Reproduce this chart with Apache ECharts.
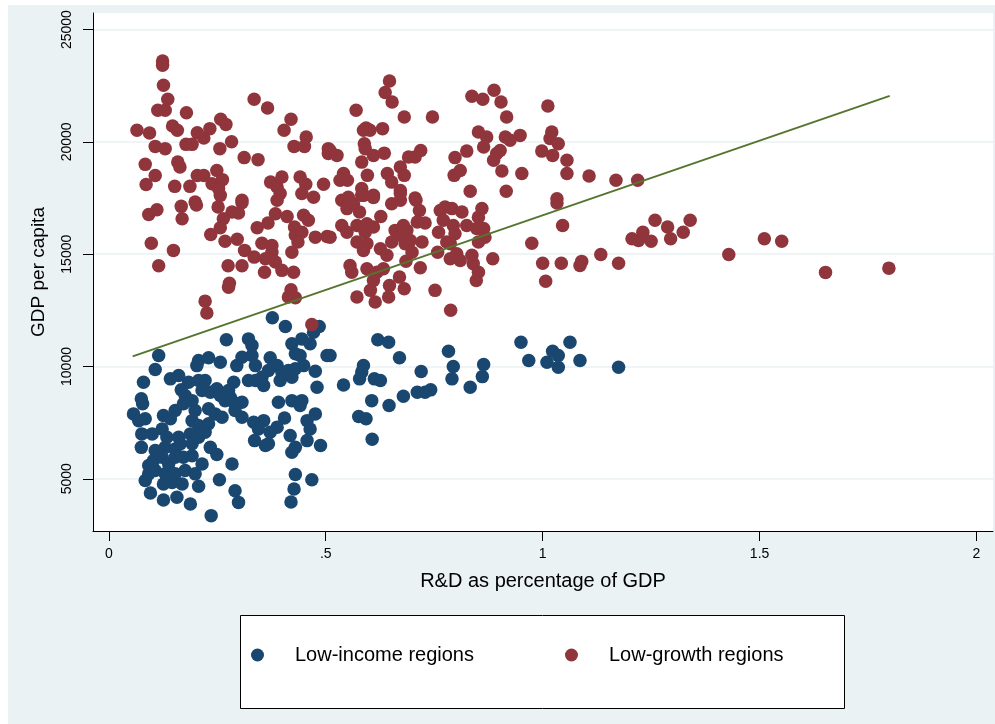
<!DOCTYPE html>
<html>
<head>
<meta charset="utf-8">
<script src="https://cdn.jsdelivr.net/npm/echarts@6/dist/echarts.min.js"></script>
<style>
  html, body { margin: 0; padding: 0; background: #fff; }
  #chart { width: 995px; height: 724px; }
</style>
</head>
<body>
<div id="chart"></div>
<script>
// R&D intensity (share of GDP) vs GDP per capita, by region group
const lowIncome = [
  [.377,12170],[.407,11780],[.485,11780],[.472,11530],[.271,11190],[.322,11230],[.330,10940],[.422,11010],[.445,11230],[.464,11010],
  [.430,10570],[.441,10490],[.503,10490],[.115,10490],[.107,9870],[.207,10270],[.230,10390],[.203,10040],[.257,10190],[.295,10040],
  [.307,10410],[.330,10490],[.338,10040],[.372,10390],[.388,10040],[.368,9820],[.353,9520],[.357,9150],[.399,9750],[.414,9820],
  [.430,9900],[.449,10040],[.476,9790],[.395,9380],[.422,9520],[.322,9380],[.338,9380],[.480,9080],[.080,9300],[.142,9450],
  [.161,9600],[.184,9300],[.167,8960],[.176,8710],[.207,9380],[.222,9380],[.215,8930],[.234,8850],[.249,9010],[.257,8710],
  [.288,9300],[.276,8930],[.280,8630],[.075,8560],[.078,8340],[.057,7890],[.084,7670],[.069,7590],[.126,7820],[.153,8040],
  [.142,7670],[.172,8340],[.192,8480],[.199,8040],[.230,8120],[.245,7890],[.261,7740],[.268,8480],[.288,8410],[.307,8410],
  [.291,8040],[.307,7740],[.192,7590],[.207,7370],[.230,7450],[.334,7520],[.357,7590],[.345,7220],[.391,8410],[.422,8480],
  [.445,8480],[.441,8260],[.405,7710],[.388,7300],[.372,7070],[.418,6930],[.457,7590],[.476,7890],[.464,7220],[.336,6700],
  [.361,6480],[.368,6560],[.430,6400],[.422,6180],[.457,6700],[.488,6480],[.076,7000],[.100,7000],[.123,7220],[.134,6850],
  [.161,6850],[.075,6400],[.107,6260],[.130,6400],[.153,6330],[.165,6560],[.188,7000],[.192,6560],[.207,6850],[.222,7070],
  [.234,6400],[.249,6080],[.284,5660],[.092,5590],[.103,5810],[.123,5960],[.138,5660],[.153,5960],[.172,5960],[.192,6030],
  [.215,5660],[.084,4920],[.092,5220],[.107,5370],[.130,5220],[.153,5220],[.176,5370],[.199,5220],[.096,4370],[.126,4770],
  [.146,4840],[.169,4770],[.207,4670],[.126,4060],[.157,4180],[.188,3880],[.236,3360],[.255,4960],[.291,4470],[.299,3950],
  [.430,5190],[.427,4550],[.420,3970],[.468,4960],
  [.510,10490],[.620,11190],[.645,11080],[.670,10390],[.587,10040],[.583,9750],[.578,9450],[.612,9450],[.626,9380],[.541,9180],
  [.606,8480],[.646,8260],[.679,8680],[.576,7770],[.593,7670],[.607,6760],[.720,9780],[.711,8850],[.729,8850],[.742,8960],
  [.783,10680],[.794,10000],[.791,9450],[.833,9080],[.864,10090],[.861,9550],[.950,11080],[.968,10270],[1.010,10190],[1.023,10680],
  [1.036,10490],[1.036,9970],[1.063,11080],[1.086,10270],[1.175,9970]
];

const lowGrowth = [
  [.124,23600],[.124,23410],[.126,22520],[.136,21900],[.113,21410],[.130,21410],[.179,21300],[.335,21900],[.366,21510],[.420,21010],
  [.404,20520],[.065,20520],[.094,20400],[.147,20710],[.158,20520],[.204,20410],[.219,20170],[.233,20590],[.258,21010],[.270,20780],
  [.283,20010],[.256,19700],[.107,19800],[.130,19700],[.178,19890],[.192,19890],[.312,19300],[.344,19210],[.427,19800],[.455,20220],
  [.451,19800],[.506,19700],[.506,19480],[.084,19000],[.159,19100],[.164,18880],[.107,18500],[.086,18100],[.152,18020],[.187,18020],
  [.204,18500],[.219,18500],[.249,18730],[.262,18320],[.238,18140],[.253,17920],[.257,17620],[.373,18210],[.388,17990],[.399,18440],
  [.395,17700],[.441,18440],[.454,18110],[.445,17700],[.472,17540],[.495,18110],[.307,17400],[.199,17320],
  [.092,16770],[.111,16980],[.167,17130],[.169,16580],[.202,17190],[.252,17100],[.307,17290],[.299,16830],[.284,16880],[.264,16580],
  [.257,16180],[.235,15880],[.268,15580],[.296,15670],[.313,15170],[.335,14870],[.342,16180],[.367,16390],[.384,16800],[.411,16680],
  [.388,17400],[.449,16730],[.460,16510],[.428,16210],[.430,15840],[.445,15980],[.476,15760],[.503,15790],[.436,15540],[.422,15090],
  [.353,15490],[.376,15390],[.376,15090],[.361,14800],[.384,14650],[.399,14280],[.426,14200],[.359,14200],[.098,15490],[.149,15170],
  [.115,14490],[.275,14490],[.307,14490],[.278,13710],[.276,13530],[.420,13420],[.414,13090],[.430,13060],[.222,12910],[.226,12380],
  [.468,11870],
  [.647,22710],[.637,22200],[.653,21780],[.570,21410],[.681,21110],[.746,21110],[.593,20620],[.587,20520],[.602,20520],[.631,20590],
  [.589,19920],[.591,19700],[.610,19400],[.635,19500],[.583,19100],[.596,18510],[.526,19400],[.510,19620],[.541,18590],[.550,18290],
  [.533,18290],[.583,17920],[.610,17620],[.587,17620],[.642,18590],[.652,18210],[.672,18880],[.691,19330],[.706,19330],[.719,19620],
  [.681,18510],[.672,17840],[.706,17500],[.837,22030],[.862,21900],[.888,22300],[.904,21780],[.917,21110],[.852,20440],[.871,20220],
  [.864,19770],[.798,19300],[.825,19590],[.796,18510],[.810,18730],[.894,19480],[.902,19620],[.887,19180],[.906,18700],[.914,20220],
  [.925,20070],[.948,20290],[.952,18590],[.833,17800],[.916,17800],[1.012,21600],[1.021,20440],[1.017,20150],[1.036,19920],[.998,19590],
  [1.023,19400],[1.056,19180],[1.056,18590],[1.033,17470],
  [.537,17400],[.552,17540],[.564,17250],[.549,17030],[.583,17620],[.610,17520],[.578,16880],[.627,16680],[.652,17250],[.672,17400],
  [.672,17700],[.708,17400],[.716,16950],[.711,16430],[.729,16390],[.764,16950],[.775,17100],[.791,17030],[.814,16880],[.771,16510],
  [.852,16650],[.860,17030],[.825,16280],[.848,16140],[.864,16140],[.867,15760],[.852,15540],[.794,16280],[.798,15910],[.779,15540],
  [.760,15980],[1.033,17280],[1.046,16280],[.975,15490],[.537,16280],[.549,15980],[.510,15760],[.572,16280],[.595,16360],[.610,16210],
  [.591,15980],[.660,16060],[.679,16280],[.687,16060],[.672,15840],[.695,15610],[.683,15470],[.572,15540],[.595,15470],[.587,15170],
  [.626,15240],[.641,14950],[.652,15540],[.722,15540],[.699,15090],[.685,14690],[.758,15090],[.787,15470],[.802,15020],[.787,14800],
  [.810,14720],[.837,14950],[.840,14580],[.852,14200],[.847,13830],[.885,14800],[.556,14500],[.560,14200],[.595,14350],[.618,14200],
  [.633,14350],[.718,14400],[.670,13980],[.610,13830],[.603,13390],[.647,13610],[.645,13090],[.681,13460],[.572,13090],[.614,12870],
  [.752,13390],[.788,12500],[1.000,14600],[1.043,14600],[1.007,13800],
  [1.107,18480],[1.169,18290],[1.219,18290],[1.259,16510],[1.288,16210],[1.340,16510],[1.324,15980],[1.295,15690],[1.206,15690],[1.221,15610],
  [1.231,15980],[1.250,15580],[1.086,14500],[1.090,14680],[1.134,14990],[1.175,14600],[1.429,14990],[1.511,15690],[1.551,15580],[1.652,14190],
  [1.798,14380]
];

// Linear fit across all regions (endpoints at the observed R&D range)
const fitRD = [0.055, 1.8];
const fitGDP = [10450, 22050];

const xTicks = [0, 0.5, 1, 1.5, 2];
const xTickLabels = ['0', '.5', '1', '1.5', '2'];
const yTicks = [5000, 10000, 15000, 20000, 25000];

const FONT = '"Liberation Sans", Arial, Helvetica, sans-serif';
const NAVY = '#1a476f';
const MAROON = '#90353b';
const FOREST = '#55752f';

const chart = echarts.init(document.getElementById('chart'), null, { renderer: 'canvas' });

chart.setOption({
  animation: false,
  backgroundColor: '#ffffff',
  textStyle: { fontFamily: FONT },
  graphic: [
    { type: 'rect', z: -100, silent: true,
      shape: { x: 8, y: 5, width: 987, height: 719 },
      style: { fill: '#eaf2f3' } },
    { type: 'rect', z: -50, silent: true,
      shape: { x: 240.5, y: 615.5, width: 604, height: 93 },
      style: { fill: '#ffffff', stroke: '#000000', lineWidth: 1 } }
  ],
  grid: {
    left: 93, right: 2, top: 13, bottom: 193,
    show: true, backgroundColor: '#ffffff', borderWidth: 0
  },
  legend: {
    left: 246, top: 640,
    icon: 'circle', itemWidth: 13, itemHeight: 13, itemGap: 91,
    textStyle: { fontFamily: FONT, fontSize: 20, color: '#000', padding: [0, 0, 0, 26] },
    data: ['Low-income regions', 'Low-growth regions']
  },
  xAxis: {
    type: 'value', min: -0.0364, max: 2.038,
    name: 'R&D as percentage of GDP', nameLocation: 'middle', nameGap: 40,
    nameTextStyle: { fontFamily: FONT, fontSize: 20, color: '#000' },
    axisLine: { show: true, onZero: false, lineStyle: { color: '#000', width: 1 } },
    axisTick: { show: true, length: 10, customValues: xTicks, lineStyle: { color: '#000', width: 1 } },
    axisLabel: {
      customValues: xTicks, margin: 16, fontFamily: FONT, fontSize: 14, color: '#000',
      formatter: v => {
        const i = xTicks.findIndex(t => Math.abs(t - v) < 1e-9);
        return i >= 0 ? xTickLabels[i] : '';
      }
    },
    splitLine: { show: false }
  },
  yAxis: {
    type: 'value', min: 2676, max: 25739,
    name: 'GDP per capita', nameLocation: 'middle', nameGap: 45, nameRotate: 90,
    nameTextStyle: { fontFamily: FONT, fontSize: 19, color: '#000' },
    axisLine: { show: true, onZero: false, lineStyle: { color: '#000', width: 1 } },
    axisTick: { show: true, length: 10, customValues: yTicks, lineStyle: { color: '#000', width: 1 } },
    axisLabel: {
      customValues: yTicks, rotate: 90, margin: 19, fontFamily: FONT, fontSize: 14, color: '#000',
      formatter: v => String(v)
    },
    splitLine: { show: true, lineStyle: { color: '#eaf2f3', width: 1.5 } }
  },
  series: [
    {
      type: 'scatter', name: 'Low-income regions', data: lowIncome,
      symbol: 'circle', symbolSize: 13.5, itemStyle: { color: NAVY, opacity: 1 },
      emphasis: { disabled: true }, z: 2
    },
    {
      type: 'scatter', name: 'Low-growth regions', data: lowGrowth,
      symbol: 'circle', symbolSize: 13.5, itemStyle: { color: MAROON, opacity: 1 },
      emphasis: { disabled: true }, z: 3
    },
    {
      type: 'line', name: 'Fitted values',
      data: fitRD.map((x, i) => [x, fitGDP[i]]),
      symbol: 'none', lineStyle: { color: FOREST, width: 2 },
      emphasis: { disabled: true }, z: 4
    }
  ]
});
</script>
</body>
</html>
